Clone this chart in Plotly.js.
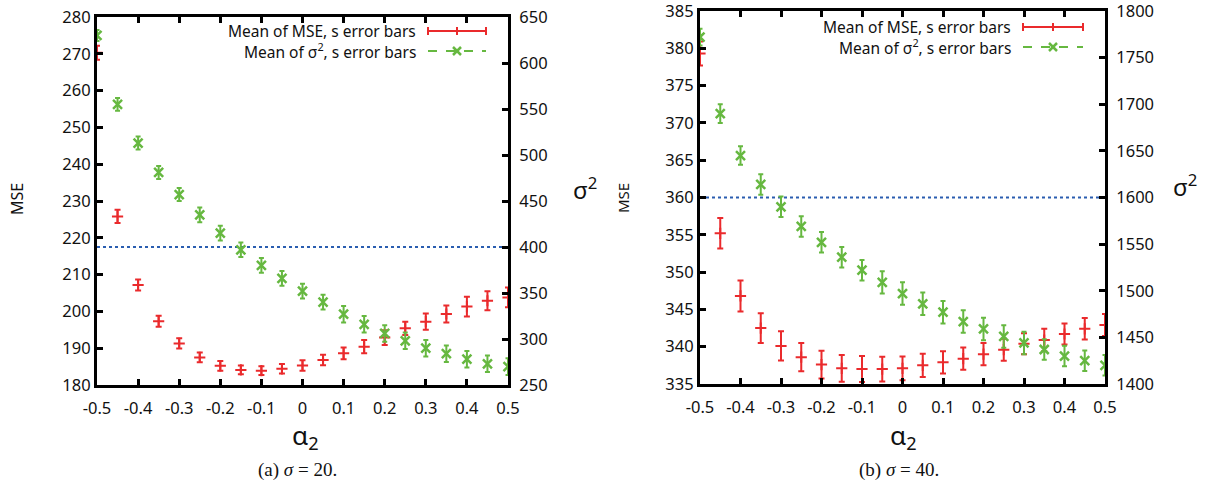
<!DOCTYPE html>
<html>
<head>
<meta charset="utf-8">
<script src="https://cdn.plot.ly/plotly-3.0.1.min.js"></script>
<style>html,body{margin:0;padding:0;background:#fff;}#chart{width:1209px;height:486px;}</style>
</head>
<body>
<div id="chart"></div>
<script>
// ---------- data ----------
const alpha2 = [-0.5,-0.45,-0.4,-0.35,-0.3,-0.25,-0.2,-0.15,-0.1,-0.05,0,0.05,0.1,0.15,0.2,0.25,0.3,0.35,0.4,0.45,0.5];

// (a) sigma = 20
const mseA = [270.3,225.8,207.2,197.3,191.3,187.5,185.2,184.1,183.9,184.4,185.3,186.8,188.6,190.4,192.9,195.4,197.2,199.3,201.3,202.9,203.8];
const mseErrA = [1.9,1.8,1.5,1.5,1.4,1.3,1.3,1.2,1.2,1.3,1.4,1.4,1.6,1.8,2.0,1.8,2.2,2.3,2.7,2.6,2.7];
const sig2A = [630,555,513,481,457,435,415,397,380,366,352,340,327,316,306,298,290,284,278,273,270];
const sig2ErrA = [6,7,7,7,7,8,8,8,8,8,8,8,9,9,9,9,9,9,9,9,9];
const refA = 400;

// (b) sigma = 40
const mseB = [379.3,355.2,346.8,342.5,340.1,338.6,337.6,337.1,337.0,337.0,337.1,337.5,337.9,338.4,339.0,339.6,340.4,340.9,341.7,342.4,342.9];
const mseErrB = [1.6,2.05,2.07,2.0,1.96,1.9,1.87,1.8,1.74,1.65,1.6,1.56,1.5,1.5,1.5,1.47,1.4,1.5,1.4,1.45,1.47];
const sig2B = [1772,1690,1645,1614,1590,1569,1552,1536,1522,1509,1497,1486,1477,1467,1459,1451,1444,1437,1430,1425,1420];
const sig2ErrB = [9,10,10,11,11,11,11,11,11,12,12,12,12,12,12,12,12,11,11,11,11];
const refB = 1600;

const xTickVals = [-0.5,-0.4,-0.3,-0.2,-0.1,0,0.1,0.2,0.3,0.4,0.5];
const xTickText = ['-0.5','-0.4','-0.3','-0.2','-0.1','0','0.1','0.2','0.3','0.4','0.5'];
const legendMSE = 'Mean of MSE, s error bars';
const legendSig = 'Mean of σ<sup>2</sup>, s error bars';
const captionA = '(a) <i>σ</i> = 20.';
const captionB = '(b) <i>σ</i> = 40.';

// ---------- styles ----------
const RED = '#ea2a2c';
const GREEN = '#66b840';
const BLUE = '#2a5db0';
const W = 1209, H = 486;
const FONT = 'Noto Sans, sans-serif';
const px = v => v / W;
const py = v => 1 - v / H;

function mseTrace(y, err, xa, ya) {
  return {x: alpha2, y: y, xaxis: xa, yaxis: ya, type: 'scatter', mode: 'markers',
    marker: {symbol: 'cross-thin', size: 8, color: RED, line: {color: RED, width: 2}},
    error_y: {type: 'data', array: err, visible: true, color: RED, thickness: 2, width: 3},
    showlegend: false, cliponaxis: true};
}
function sigTrace(y, err, xa, ya) {
  return {x: alpha2, y: y, xaxis: xa, yaxis: ya, type: 'scatter', mode: 'markers',
    marker: {symbol: 'x-thin', size: 9, color: GREEN, line: {color: GREEN, width: 2.5}},
    error_y: {type: 'data', array: err, visible: true, color: GREEN, thickness: 2, width: 2.5},
    showlegend: false, cliponaxis: true};
}
function refTrace(v, xa, ya) {
  return {x: [alpha2[0], alpha2[alpha2.length-1]], y: [v, v], xaxis: xa, yaxis: ya,
    type: 'scatter', mode: 'lines', line: {color: BLUE, width: 2, dash: 'dot'}, showlegend: false};
}

const data = [
  refTrace(refA, 'x', 'y2'),
  sigTrace(sig2A, sig2ErrA, 'x', 'y2'),
  mseTrace(mseA, mseErrA, 'x', 'y'),
  refTrace(refB, 'x2', 'y4'),
  sigTrace(sig2B, sig2ErrB, 'x2', 'y4'),
  mseTrace(mseB, mseErrB, 'x2', 'y3'),
];

const tickFont = {family: FONT, size: 16.5, color: '#111'};
function xAxis(domain, anchor) {
  return {domain: domain, anchor: anchor, range: [-0.5, 0.5], tickvals: xTickVals, ticktext: xTickText,
    ticks: 'inside', ticklen: 6, tickwidth: 3, tickcolor: '#000', showline: true, linewidth: 3,
    linecolor: '#000', mirror: 'ticks', showgrid: false, zeroline: false, tickfont: tickFont,
    ticklabelstandoff: 6, ticklabeloverflow: 'allow', fixedrange: true};
}
function yAxis(domain, anchor, range, dtick) {
  return {domain: domain, anchor: anchor, range: range, dtick: dtick, ticks: 'inside', ticklen: 6,
    tickwidth: 3, tickcolor: '#000', showline: true, linewidth: 3, linecolor: '#000', mirror: false,
    showgrid: false, zeroline: false, tickfont: tickFont, ticklabeloverflow: 'allow', fixedrange: true};
}
function y2Axis(over, anchor, range, dtick) {
  return {overlaying: over, side: 'right', anchor: anchor, range: range, dtick: dtick, ticks: 'inside',
    ticklen: 6, tickwidth: 3, tickcolor: '#000', showline: true, linewidth: 3, linecolor: '#000',
    showgrid: false, zeroline: false, tickfont: tickFont, ticklabelstandoff: 5,
    ticklabeloverflow: 'allow', fixedrange: true};
}

const domXA = [px(97), px(508)], domYA = [py(385), py(17)];
const domXB = [px(700), px(1105)], domYB = [py(384), py(11)];

const ann = [];
function txt(x, y, text, size, opts) {
  ann.push(Object.assign({xref: 'paper', yref: 'paper', x: px(x), y: py(y), text: text, showarrow: false,
    xanchor: 'center', yanchor: 'middle', font: {family: FONT, size: size, color: '#111'}}, opts || {}));
}
// axis titles
txt(17, 199, 'MSE', 16, {textangle: -90});
txt(623, 198, 'MSE', 15, {textangle: -90});
txt(585, 188, 'σ<sup>2</sup>', 24);
txt(1185, 186, 'σ<sup>2</sup>', 24);
txt(305, 436, 'α<sub>2</sub>', 26);
txt(904, 436, 'α<sub>2</sub>', 26);
// captions
const capFont = {family: 'Liberation Serif, serif', size: 19, color: '#111'};
txt(297, 470, captionA, 19, {font: capFont});
txt(899, 470, captionB, 19, {font: capFont});
// legend texts
txt(418, 31, legendMSE, 15.5, {xanchor: 'right'});
txt(418, 51, legendSig, 15.5, {xanchor: 'right'});
txt(1013, 27, legendMSE, 15.5, {xanchor: 'right'});
txt(1013, 47, legendSig, 15.5, {xanchor: 'right'});

const shapes = [];
function seg(x0, y0, x1, y1, color, width, dash) {
  shapes.push({type: 'line', xref: 'paper', yref: 'paper', x0: px(x0), y0: py(y0), x1: px(x1), y1: py(y1),
    line: {color: color, width: width, dash: dash || 'solid'}});
}
function legendSamples(x0, x1, yr, yg) {
  const xm = (x0 + x1) / 2;
  seg(x0, yr, x1, yr, RED, 2);
  seg(x0, yr - 4, x0, yr + 4, RED, 2);
  seg(x1, yr - 4, x1, yr + 4, RED, 2);
  seg(xm, yr - 4, xm, yr + 4, RED, 2);
  seg(x0, yg, x1, yg, GREEN, 2, 'dash');
  seg(xm - 4, yg - 4, xm + 4, yg + 4, GREEN, 2.5);
  seg(xm - 4, yg + 4, xm + 4, yg - 4, GREEN, 2.5);
}
legendSamples(428, 486, 31, 51);
legendSamples(1023, 1083, 27, 47);

const layout = {
  width: W, height: H, margin: {l: 0, r: 0, t: 0, b: 0},
  paper_bgcolor: '#fff', plot_bgcolor: '#fff', showlegend: false,
  xaxis: xAxis(domXA, 'y'),
  yaxis: yAxis(domYA, 'x', [180, 280], 10),
  yaxis2: y2Axis('y', 'x', [250, 650], 50),
  xaxis2: xAxis(domXB, 'y3'),
  yaxis3: yAxis(domYB, 'x2', [335, 385], 5),
  yaxis4: y2Axis('y3', 'x2', [1400, 1800], 50),
  annotations: ann, shapes: shapes,
};

Plotly.newPlot('chart', data, layout, {staticPlot: true, displayModeBar: false});
</script>
</body>
</html>
